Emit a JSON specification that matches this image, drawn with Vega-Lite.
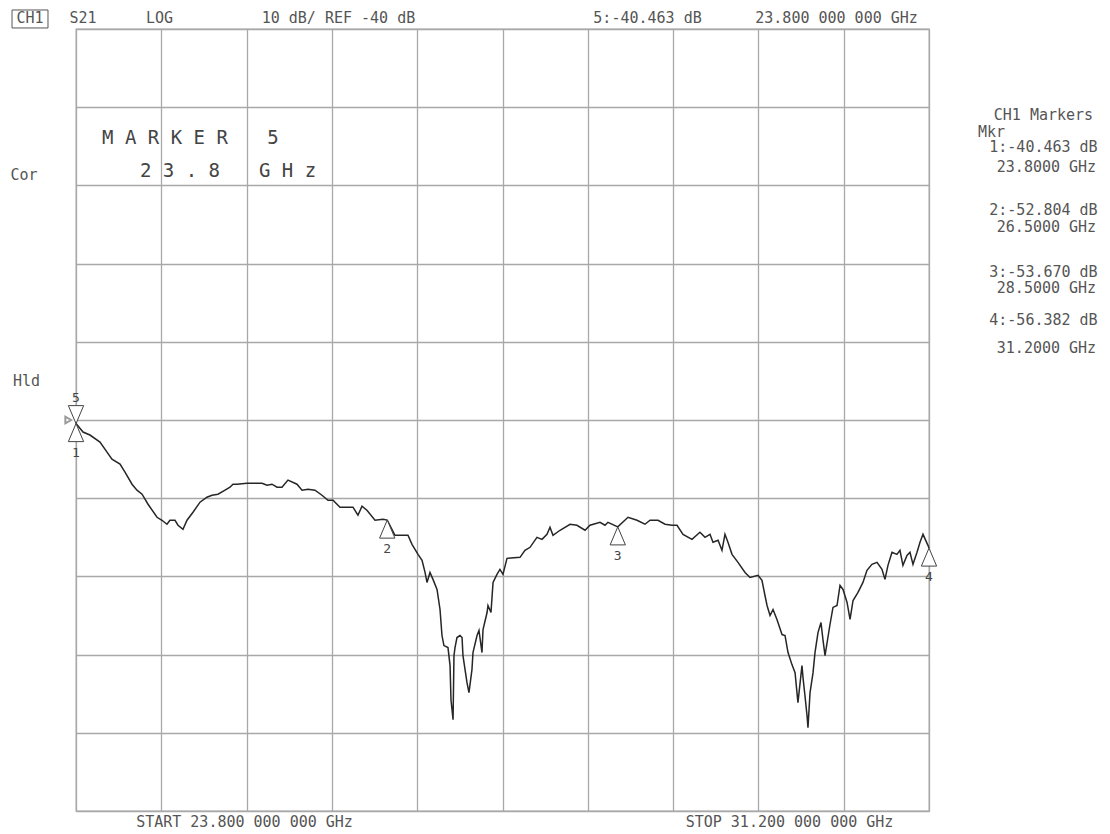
{
  "$schema": "https://vega.github.io/schema/vega-lite/v6.json",
  "width": 853,
  "height": 782,
  "autosize": {"type": "none"},
  "padding": {"left": 76, "top": 29, "right": 181, "bottom": 23},
  "background": "white",
  "config": {"view": {"stroke": "#a8a8a8", "strokeWidth": 1.3}},
  "datasets": {
    "trace": [
      {"f":23.8,"dB":-40.46},{"f":23.861,"dB":-41.54},{"f":23.921,"dB":-41.92},{"f":24.008,"dB":-42.82},{"f":24.069,"dB":-44.10},{"f":24.112,"dB":-45.00},{"f":24.182,"dB":-45.64},{"f":24.225,"dB":-46.67},{"f":24.286,"dB":-48.21},{"f":24.329,"dB":-48.97},{"f":24.373,"dB":-49.49},{"f":24.425,"dB":-50.77},{"f":24.503,"dB":-52.44},{"f":24.546,"dB":-52.82},{"f":24.589,"dB":-53.33},{"f":24.615,"dB":-52.82},{"f":24.659,"dB":-52.82},{"f":24.685,"dB":-53.46},{"f":24.728,"dB":-53.97},{"f":24.763,"dB":-52.82},{"f":24.815,"dB":-51.79},{"f":24.876,"dB":-50.51},{"f":24.936,"dB":-49.87},{"f":24.980,"dB":-49.62},{"f":25.032,"dB":-49.49},{"f":25.093,"dB":-48.97},{"f":25.136,"dB":-48.59},{"f":25.162,"dB":-48.21},{"f":25.197,"dB":-48.21},{"f":25.283,"dB":-48.08},{"f":25.414,"dB":-48.08},{"f":25.457,"dB":-48.33},{"f":25.500,"dB":-48.21},{"f":25.544,"dB":-48.59},{"f":25.587,"dB":-48.59},{"f":25.639,"dB":-47.69},{"f":25.717,"dB":-48.21},{"f":25.761,"dB":-48.97},{"f":25.813,"dB":-48.85},{"f":25.873,"dB":-48.97},{"f":25.934,"dB":-49.62},{"f":25.986,"dB":-50.26},{"f":26.030,"dB":-50.26},{"f":26.090,"dB":-51.15},{"f":26.203,"dB":-51.15},{"f":26.246,"dB":-52.18},{"f":26.281,"dB":-51.03},{"f":26.324,"dB":-51.54},{"f":26.394,"dB":-52.82},{"f":26.463,"dB":-52.69},{"f":26.5,"dB":-52.80},{"f":26.567,"dB":-54.74},{"f":26.611,"dB":-54.74},{"f":26.680,"dB":-54.74},{"f":26.715,"dB":-55.90},{"f":26.767,"dB":-57.18},{"f":26.802,"dB":-57.95},{"f":26.828,"dB":-59.49},{"f":26.845,"dB":-60.77},{"f":26.871,"dB":-59.49},{"f":26.897,"dB":-60.38},{"f":26.932,"dB":-61.67},{"f":26.958,"dB":-64.23},{"f":26.975,"dB":-67.56},{"f":26.992,"dB":-68.85},{"f":27.027,"dB":-69.10},{"f":27.045,"dB":-71.41},{"f":27.053,"dB":-75.77},{"f":27.071,"dB":-78.33},{"f":27.079,"dB":-70.13},{"f":27.088,"dB":-69.10},{"f":27.105,"dB":-67.82},{"f":27.131,"dB":-67.56},{"f":27.149,"dB":-67.82},{"f":27.157,"dB":-70.13},{"f":27.192,"dB":-73.59},{"f":27.209,"dB":-74.87},{"f":27.235,"dB":-71.92},{"f":27.244,"dB":-69.74},{"f":27.279,"dB":-67.56},{"f":27.296,"dB":-66.92},{"f":27.322,"dB":-69.74},{"f":27.331,"dB":-66.79},{"f":27.366,"dB":-64.62},{"f":27.374,"dB":-63.72},{"f":27.400,"dB":-64.62},{"f":27.418,"dB":-60.77},{"f":27.452,"dB":-59.74},{"f":27.478,"dB":-59.10},{"f":27.504,"dB":-59.74},{"f":27.539,"dB":-57.69},{"f":27.652,"dB":-57.56},{"f":27.695,"dB":-56.67},{"f":27.739,"dB":-56.28},{"f":27.799,"dB":-55.00},{"f":27.843,"dB":-55.26},{"f":27.886,"dB":-54.62},{"f":27.912,"dB":-53.72},{"f":27.938,"dB":-54.74},{"f":27.999,"dB":-54.10},{"f":28.086,"dB":-53.33},{"f":28.146,"dB":-53.46},{"f":28.216,"dB":-54.10},{"f":28.259,"dB":-53.46},{"f":28.346,"dB":-53.08},{"f":28.389,"dB":-53.46},{"f":28.415,"dB":-53.08},{"f":28.5,"dB":-53.67},{"f":28.589,"dB":-52.44},{"f":28.667,"dB":-52.82},{"f":28.736,"dB":-53.33},{"f":28.780,"dB":-52.82},{"f":28.849,"dB":-52.82},{"f":28.910,"dB":-53.33},{"f":28.970,"dB":-53.46},{"f":29.014,"dB":-53.46},{"f":29.066,"dB":-54.62},{"f":29.144,"dB":-55.26},{"f":29.213,"dB":-54.36},{"f":29.257,"dB":-55.00},{"f":29.300,"dB":-54.62},{"f":29.326,"dB":-55.64},{"f":29.370,"dB":-55.38},{"f":29.404,"dB":-56.67},{"f":29.430,"dB":-54.62},{"f":29.456,"dB":-55.64},{"f":29.491,"dB":-57.18},{"f":29.543,"dB":-58.21},{"f":29.604,"dB":-59.49},{"f":29.647,"dB":-60.13},{"f":29.717,"dB":-59.87},{"f":29.751,"dB":-60.51},{"f":29.777,"dB":-62.44},{"f":29.795,"dB":-63.72},{"f":29.821,"dB":-65.00},{"f":29.847,"dB":-64.23},{"f":29.881,"dB":-65.51},{"f":29.925,"dB":-67.44},{"f":29.951,"dB":-67.56},{"f":29.977,"dB":-69.74},{"f":30.011,"dB":-71.28},{"f":30.038,"dB":-72.31},{"f":30.063,"dB":-76.15},{"f":30.098,"dB":-71.41},{"f":30.107,"dB":-72.95},{"f":30.124,"dB":-75.26},{"f":30.142,"dB":-77.82},{"f":30.150,"dB":-79.36},{"f":30.168,"dB":-74.87},{"f":30.194,"dB":-72.31},{"f":30.211,"dB":-69.74},{"f":30.237,"dB":-67.18},{"f":30.263,"dB":-65.90},{"f":30.280,"dB":-68.08},{"f":30.298,"dB":-70.13},{"f":30.341,"dB":-66.15},{"f":30.367,"dB":-63.97},{"f":30.402,"dB":-63.72},{"f":30.428,"dB":-61.15},{"f":30.454,"dB":-61.67},{"f":30.489,"dB":-63.33},{"f":30.515,"dB":-65.51},{"f":30.541,"dB":-63.08},{"f":30.584,"dB":-62.05},{"f":30.627,"dB":-60.77},{"f":30.662,"dB":-59.23},{"f":30.705,"dB":-58.46},{"f":30.749,"dB":-58.21},{"f":30.792,"dB":-59.10},{"f":30.818,"dB":-60.38},{"f":30.844,"dB":-58.59},{"f":30.879,"dB":-56.92},{"f":30.922,"dB":-57.18},{"f":30.948,"dB":-56.67},{"f":30.974,"dB":-58.59},{"f":31.009,"dB":-57.31},{"f":31.035,"dB":-56.92},{"f":31.061,"dB":-58.46},{"f":31.096,"dB":-56.92},{"f":31.122,"dB":-55.64},{"f":31.148,"dB":-54.62},{"f":31.191,"dB":-56.03},{"f":31.2,"dB":-56.38}
    ],
    "markers": [
      {"m":"1","f":23.8,"dB":-40.463},
      {"m":"2","f":26.5,"dB":-52.804},
      {"m":"3","f":28.5,"dB":-53.670},
      {"m":"4","f":31.2,"dB":-56.382},
      {"m":"5","f":23.8,"dB":-40.463}
    ],
    "refpos": [{"f":23.733,"dB":-40}],
    "box": [{"f":23.245,"f2":23.557,"dB":12.43,"dB2":10.13}],
    "labels": [
      {"t":"CH1","f":23.401,"dB":11.41},
      {"t":"S21","f":23.861,"dB":11.41},
      {"t":"LOG","f":24.524,"dB":11.41},
      {"t":"10 dB/ REF -40 dB","f":26.077,"dB":11.41},
      {"t":"5:-40.463 dB","f":28.758,"dB":11.41},
      {"t":"23.800 000 000 GHz","f":30.398,"dB":11.41},
      {"t":"CH1 Markers","f":32.193,"dB":-1.0},
      {"t":"Mkr","f":31.742,"dB":-3.13},
      {"t":"1:-40.463 dB","f":32.193,"dB":-5.09},
      {"t":"23.8000 GHz","f":32.219,"dB":-7.61},
      {"t":"2:-52.804 dB","f":32.193,"dB":-13.15},
      {"t":"26.5000 GHz","f":32.219,"dB":-15.28},
      {"t":"3:-53.670 dB","f":32.193,"dB":-21.04},
      {"t":"28.5000 GHz","f":32.219,"dB":-23.16},
      {"t":"4:-56.382 dB","f":32.193,"dB":-27.21},
      {"t":"31.2000 GHz","f":32.219,"dB":-30.83},
      {"t":"Cor","f":23.349,"dB":-8.67},
      {"t":"Hld","f":23.371,"dB":-35.01},
      {"t":"START 23.800 000 000 GHz","f":25.262,"dB":-91.45},
      {"t":"STOP 31.200 000 000 GHz","f":29.990,"dB":-91.45}
    ],
    "big": [
      {"t":"M A R K E R","f":24.572,"dB":-3.94},
      {"t":"5","f":25.509,"dB":-3.94},
      {"t":"2 3 . 8","f":24.702,"dB":-8.16},
      {"t":"G H z","f":25.635,"dB":-8.16}
    ]
  },
  "encoding": {
    "x": {
      "field": "f", "type": "quantitative",
      "scale": {"domain": [23.8, 31.2], "nice": false, "zero": false},
      "axis": {"values": [23.8, 24.54, 25.28, 26.02, 26.76, 27.5, 28.24, 28.98, 29.72, 30.46, 31.2], "grid": true, "gridColor": "#a8a8a8", "gridWidth": 1.3, "gridOpacity": 1, "labels": false, "ticks": false, "domain": false, "title": null}
    },
    "y": {
      "field": "dB", "type": "quantitative",
      "scale": {"domain": [-90, 10], "nice": false, "zero": false},
      "axis": {"values": [-90, -80, -70, -60, -50, -40, -30, -20, -10, 0, 10], "grid": true, "gridColor": "#a8a8a8", "gridWidth": 1.3, "gridOpacity": 1, "labels": false, "ticks": false, "domain": false, "title": null}
    }
  },
  "layer": [
    {"data": {"name": "trace"}, "mark": {"type": "line", "color": "#262626", "strokeWidth": 1.5}},
    {"data": {"name": "markers"}, "transform": [{"filter": "datum.m != '5'"}],
     "mark": {"type": "point", "shape": "M0,0L-0.85,2L0.85,2Z", "size": 324, "filled": true, "fill": "white", "stroke": "#444", "strokeWidth": 1, "opacity": 1}},
    {"data": {"name": "markers"}, "transform": [{"filter": "datum.m == '5'"}],
     "mark": {"type": "point", "shape": "M0,0L-0.85,-2L0.85,-2Z", "size": 324, "filled": true, "fill": "white", "stroke": "#444", "strokeWidth": 1, "opacity": 1}},
    {"data": {"name": "markers"}, "transform": [{"filter": "datum.m != '5'"}],
     "mark": {"type": "text", "dy": 29, "font": "DejaVu Sans Mono", "fontSize": 13, "color": "#444"},
     "encoding": {"text": {"field": "m"}}},
    {"data": {"name": "markers"}, "transform": [{"filter": "datum.m == '5'"}],
     "mark": {"type": "text", "dy": -26, "font": "DejaVu Sans Mono", "fontSize": 13, "color": "#444"},
     "encoding": {"text": {"field": "m"}}},
    {"data": {"name": "refpos"}, "mark": {"type": "point", "shape": "triangle-right", "size": 45, "filled": false, "color": "#999", "opacity": 1}},
    {"data": {"name": "box"}, "mark": {"type": "rect", "fillOpacity": 0, "stroke": "#555", "strokeWidth": 1},
     "encoding": {"x2": {"field": "f2"}, "y2": {"field": "dB2"}}},
    {"data": {"name": "labels"}, "mark": {"type": "text", "font": "DejaVu Sans Mono", "fontSize": 15, "color": "#555", "align": "center", "baseline": "middle"},
     "encoding": {"text": {"field": "t"}}},
    {"data": {"name": "big"}, "mark": {"type": "text", "font": "DejaVu Sans Mono", "fontSize": 19, "color": "#444", "align": "center", "baseline": "middle"},
     "encoding": {"text": {"field": "t"}}}
  ]
}
